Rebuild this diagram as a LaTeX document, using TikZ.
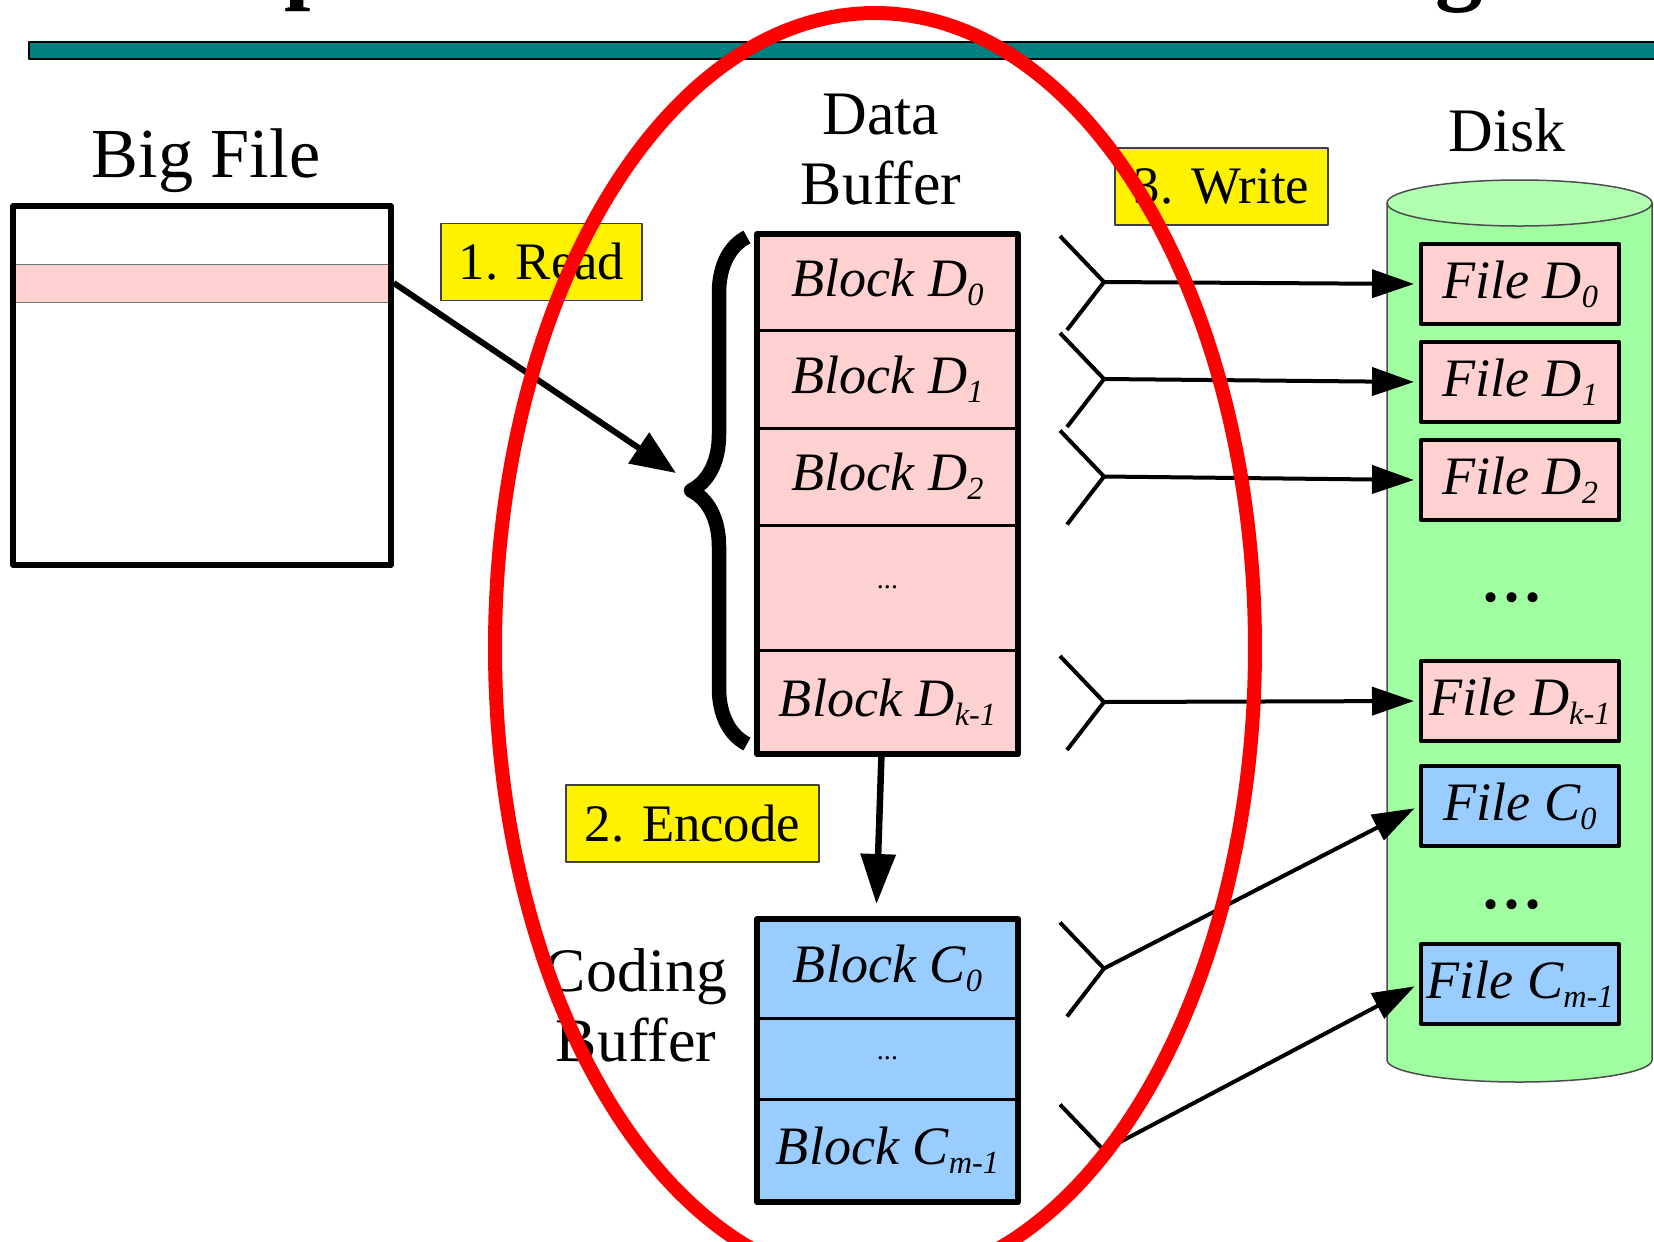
\documentclass[tikz,border=0pt]{standalone}
\usepackage{fontspec}
\setmainfont{Liberation Serif}
\usetikzlibrary{arrows.meta,calc,decorations.pathreplacing}

\definecolor{blockpink}{HTML}{FFD1D1}
\definecolor{blockblue}{HTML}{99CCFF}
\definecolor{diskgreen}{HTML}{A0FFA0}
\definecolor{disktop}{HTML}{B2FFB2}
\definecolor{barteal}{HTML}{008080}

\newcommand\titlefont{\fontsize{27pt}{30pt}\selectfont\bfseries}
\newcommand\bigfont{\fontsize{20pt}{24pt}\selectfont}
\newcommand\headfont{\fontsize{17.6pt}{19.9pt}\selectfont}
\newcommand\stepfont{\fontsize{15pt}{18pt}\selectfont}
\newcommand\blockfont{\fontsize{15.4pt}{18pt}\selectfont\itshape}
\newcommand\tinydots{\fontsize{8pt}{9pt}\selectfont}
\newcommand\diskdots{\fontsize{24pt}{26pt}\selectfont}
\newcommand\lowsub[1]{\raisebox{-2.6pt}{\fontsize{9.2pt}{10pt}\selectfont #1}}

\begin{document}
\begin{tikzpicture}[x=0.1mm, y=-0.1mm, line join=round,
    drow/.style={draw, fill=blockpink, line width=0.3mm, minimum width=26.1mm,
      inner sep=0pt, outer sep=0pt, font=\blockfont},
    crow/.style={drow, fill=blockblue},
    fbox/.style={draw, line width=0.4mm, minimum width=19.8mm, minimum height=8mm,
      inner sep=0pt, font=\blockfont},
    steplabel/.style={draw=black!75, fill=yellow, line width=0.15mm,
      minimum height=7.7mm, inner sep=0pt, font=\stepfont},
    fork/.style={line width=0.4mm},
    wr/.style={line width=0.4mm, -{Triangle[length=4.2mm,width=2.8mm]}}]
  \useasboundingbox (0,0) rectangle (1654,1242);

  % Cut title and rule.
  \node[anchor=base west, inner sep=0pt, font=\titlefont] (ttlp) at (284,-9) {p};
  \node[anchor=base west, inner sep=0pt, font=\titlefont] (ttlg) at (1435,-8) {g};
  \draw[fill=barteal, line width=0.2mm] (29,42) rectangle (1680,59);

  % Big file.
  \node[fill=blockpink, draw=black!55, line width=0.1mm, minimum width=37.6mm,
    minimum height=3.8mm, inner sep=0pt] (stripe) at (202,283) {};
  \node[draw, line width=0.55mm, minimum width=37.8mm, minimum height=35.9mm,
    inner sep=0pt] (bigfile) at (202,385.5) {};
  \node[anchor=base, font=\bigfont] (bigtitle) at (206,177) {Big File};

  % Data buffer.
  \node[drow, minimum height=9.6mm] (d0) at (887.5,282) {Block D\lowsub{0}};
  \node[drow, minimum height=9.8mm] (d1) at (887.5,379) {Block D\lowsub{1}};
  \node[drow, minimum height=9.7mm] (d2) at (887.5,476.5) {Block D\lowsub{2}};
  \node[drow, minimum height=12.5mm, font=\tinydots] (dmid) at (887.5,587.5) {...};
  \node[drow, minimum height=10.4mm] (dk) at (887.5,702) {Block D\lowsub{k-1}};
  \draw[line width=0.6mm] (d0.north west) rectangle (dk.south east);
  \node[anchor=south, align=center, inner sep=0pt, font=\headfont] (dbtitle)
    at (881,206) {Data\\Buffer};
  \draw[line width=1.45mm, decorate, decoration={brace, amplitude=5.6mm}]
    (747,744) -- (747,237);

  % Coding buffer.
  \node[crow, minimum height=9.9mm] (c0) at (887.5,968.5) {Block C\lowsub{0}};
  \node[crow, minimum height=8.1mm, font=\tinydots] (cmid) at (887.5,1058.5) {...};
  \node[crow, minimum height=10.3mm] (cm) at (887.5,1150.5) {Block C\lowsub{m-1}};
  \draw[line width=0.6mm] (c0.north west) rectangle (cm.south east);
  \node[anchor=south, align=center, inner sep=0pt, font=\headfont] (cbtitle)
    at (636,1063) {Coding\\Buffer};

  % Disk.
  \draw[fill=diskgreen, draw=black!70, line width=0.15mm] (1387,203) -- (1387,1060)
    arc[start angle=180, end angle=360, x radius=13.25mm, y radius=2.2mm] -- (1652,203);
  \draw[fill=disktop, draw=black!70, line width=0.15mm] (1519.5,203)
    ellipse [x radius=13.25mm, y radius=2.3mm];
  \node[anchor=base, font=\headfont] (disktitle) at (1507,151) {Disk};
  \node[fbox, fill=blockpink] (fd0) at (1520,284) {File D\lowsub{0}};
  \node[fbox, fill=blockpink] (fd1) at (1520,382) {File D\lowsub{1}};
  \node[fbox, fill=blockpink] (fd2) at (1520,480) {File D\lowsub{2}};
  \node[font=\diskdots] (ddots) at (1512,598) {...};
  \node[fbox, fill=blockpink] (fdk) at (1520,701) {File D\lowsub{k-1}};
  \node[fbox, fill=blockblue] (fc0) at (1520,806) {File C\lowsub{0}};
  \node[font=\diskdots] (cdots) at (1512,905) {...};
  \node[fbox, fill=blockblue] (fcm) at (1520,984) {File C\lowsub{m-1}};

  % 1. Read, 2. Encode.
  \coordinate (readtip) at (676,473);
  \draw[line width=0.6mm, -{Triangle[length=4.5mm,width=3.6mm]}]
    (bigfile.east |- stripe.east) -- (readtip);
  \draw[line width=0.65mm, -{Triangle[length=5mm,width=3.4mm]}]
    ($(dk.south)+(-6,0)$) -- ($(c0.north)+(-11,-15)$);

  % 3. Write.
  \foreach \blk/\fil in {d0/fd0, d1/fd1, d2/fd2, dk/fdk, c0/fc0, cm/fcm} {
    \coordinate (v) at ($(\blk.east)+(86,0)$);
    \draw[fork] ($(v)+(-44,-46)$) -- (v) -- ($(v)+(-37,48)$);
    \draw[wr, shorten >=0.5mm] (v) -- (\fil.west);
  }

  \node[steplabel, minimum width=20.1mm] (readlbl) at (541.5,262) {1. Read};
  \node[steplabel, minimum width=25.3mm] (enclbl) at (692.5,823.5) {2. Encode};
  \node[steplabel, minimum width=21.3mm] (wrlbl) at (1221.5,186.5) {3. Write};

  % The highlight.
  \draw[red, line width=1.4mm] (875,648) ellipse [x radius=38mm, y radius=63.5mm];
\end{tikzpicture}
\end{document}
